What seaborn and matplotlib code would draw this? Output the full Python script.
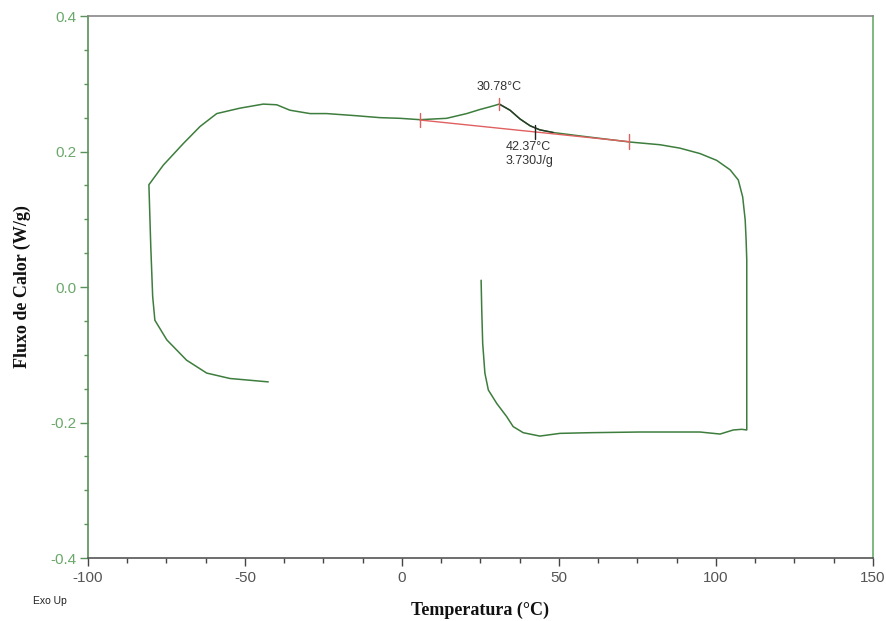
import matplotlib
matplotlib.use("Agg")
import matplotlib.pyplot as plt
from matplotlib.ticker import MultipleLocator
import seaborn as sns
import pandas as pd

# DSC trace: heating from 25 °C to 110 °C, cooling to -80 °C, reheating to -43 °C
temperature = [25.2, 25.4, 25.7, 26.4, 27.5, 30.2, 33.3, 35.4, 38.6, 43.9, 50.3,
               59.9, 75.8, 94.9, 97.0, 101.3, 103.4, 105.5, 108.2, 109.8, 109.8,
               109.6, 109.3, 108.5, 107.1, 104.5, 100.2, 94.9, 88.5, 82.2, 72.6,
               67.3, 56.7, 48.2, 43.9, 40.8, 37.6, 34.4, 31.0, 28.0, 24.8, 20.6,
               14.2, 5.7, -0.6, -7.0, -15.0, -24.0, -29.3, -35.7, -39.9, -44.2,
               -51.6, -59.0, -64.3, -69.6, -76.0, -80.6, -80.0, -79.4, -78.7,
               -74.9, -68.6, -62.2, -54.8, -42.6]
heat_flow = [0.010, -0.034, -0.083, -0.127, -0.152, -0.172, -0.191, -0.206, -0.215,
             -0.220, -0.216, -0.215, -0.214, -0.214, -0.215, -0.217, -0.214,
             -0.211, -0.210, -0.211, 0.040, 0.069, 0.099, 0.133, 0.158, 0.173,
             0.187, 0.197, 0.205, 0.210, 0.214, 0.217, 0.223, 0.228, 0.232, 0.238,
             0.248, 0.261, 0.270, 0.266, 0.262, 0.256, 0.249, 0.247, 0.249, 0.250,
             0.253, 0.256, 0.256, 0.261, 0.269, 0.270, 0.264, 0.256, 0.237, 0.212,
             0.180, 0.151, 0.059, -0.014, -0.049, -0.078, -0.108, -0.127, -0.135,
             -0.140]

# Integration of the melting peak
baseline_t = [5.7, 72.4]
baseline_q = [0.2465, 0.2145]
peak_t, peak_q = 30.78, 0.270
onset_t, onset_q = 42.37, 0.229
enthalpy = 3.730
peak_region_t = [31.0, 34.4, 37.6, 40.8, 43.9, 48.2]
peak_region_q = [0.270, 0.261, 0.248, 0.238, 0.232, 0.228]

x_ticks = [-100, -50, 0, 50, 100, 150]
y_ticks = [-0.4, -0.2, 0.0, 0.2, 0.4]

sns.set_style("white")
plt.rcParams["font.family"] = ["Liberation Sans", "DejaVu Sans"]

fig = plt.figure(figsize=(8.87, 6.21), dpi=100)
ax = fig.add_axes([0.0992, 0.1014, 0.885, 0.8728])

trace = pd.DataFrame({"T": temperature, "Q": heat_flow})
sns.lineplot(data=trace, x="T", y="Q", sort=False, estimator=None,
             color="#3d7d3d", linewidth=1.1, ax=ax)
sns.lineplot(x=peak_region_t, y=peak_region_q, sort=False, estimator=None,
             color="#2a3a2a", linewidth=1.0, ax=ax)
sns.lineplot(x=baseline_t, y=baseline_q, sort=False, estimator=None,
             color="#e06060", linewidth=1.0, ax=ax)

# Limit and peak markers
for t, q in zip(baseline_t, baseline_q):
    ax.plot([t, t], [q - 0.011, q + 0.011], color="#e06060", lw=1.0)
ax.plot([peak_t, peak_t], [peak_q - 0.009, peak_q + 0.009], color="#e06060", lw=1.0)
ax.plot([onset_t, onset_t], [onset_q - 0.010, onset_q + 0.010], color="#222222", lw=1.0)

ax.text(peak_t, peak_q + 0.017, f"{peak_t:.2f}°C", ha="center", va="bottom",
        fontsize=9, color="#333333")
ax.text(onset_t - 9.3, onset_q - 0.014, f"{onset_t:.2f}°C\n{enthalpy:.3f}J/g",
        ha="left", va="top", fontsize=9, color="#333333", linespacing=1.15)

ax.set_xlim(-100, 150)
ax.set_ylim(-0.4, 0.4)
ax.set_xticks(x_ticks)
ax.set_yticks(y_ticks)
ax.set_xticklabels([f"{v:g}" for v in x_ticks])
ax.set_yticklabels([f"{v:.1f}" for v in y_ticks])
ax.xaxis.set_minor_locator(MultipleLocator(12.5))
ax.yaxis.set_minor_locator(MultipleLocator(0.05))

ax.tick_params(axis="x", which="both", bottom=True, top=False)
ax.tick_params(axis="y", which="both", left=True, right=False)
ax.tick_params(axis="x", which="major", direction="out", length=6, width=1,
               colors="#444444", labelsize=11, labelcolor="#555555", pad=3)
ax.tick_params(axis="x", which="minor", direction="out", length=3.5, width=1,
               colors="#444444")
ax.tick_params(axis="y", which="major", direction="out", length=6, width=1,
               colors="#5a905a", labelsize=11, labelcolor="#6aa86a", pad=2)
ax.tick_params(axis="y", which="minor", direction="out", length=3, width=1,
               colors="#5a905a")

for side, col in (("left", "#5a905a"), ("right", "#6aaa6a"),
                  ("top", "#888888"), ("bottom", "#555555")):
    ax.spines[side].set_visible(True)
    ax.spines[side].set_color(col)
    ax.spines[side].set_linewidth(1.2)

serif = ["Liberation Serif", "DejaVu Serif"]
ax.set_xlabel("Temperatura (°C)", fontsize=13, fontweight="bold",
              family=serif, color="#111111", labelpad=12)
ax.set_ylabel("Fluxo de Calor (W/g)", fontsize=13, fontweight="bold",
              family=serif, color="#111111", labelpad=14)

fig.text(0.037, 0.024, "Exo Up", fontsize=7.5, color="#222222", va="bottom")

fig.savefig("out.png", dpi=100)
